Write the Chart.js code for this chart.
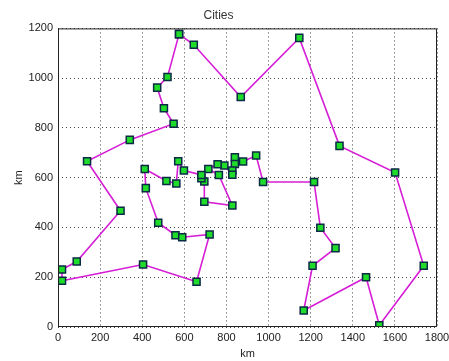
<!DOCTYPE html>
<html>
<head>
<meta charset="utf-8">
<script src="https://cdn.jsdelivr.net/npm/chart.js@4"></script>
<style>
  html, body { margin: 0; padding: 0; background: #fff; }
  canvas { display: block; }
</style>
</head>
<body>
<canvas id="chartCities" width="449" height="361"></canvas>
<script>
// Ciudades en el orden del recorrido (km)
const cityX = [575, 645, 868, 1146, 1337, 1601, 1737, 1526, 1463, 1167, 1209, 1318, 1246, 1216,
  974, 941, 879, 840, 840, 828, 828, 790, 758, 714, 764, 828, 695, 695, 681, 681,
  598, 571, 562, 515, 412, 417, 476, 558, 590, 720, 658, 404, 19, 19, 89, 297,
  138, 341, 549, 503, 471, 520];
const cityY = [1177, 1134, 924, 1162, 728, 621, 246, 7, 200, 66, 246, 317, 399, 583,
  583, 689, 665, 682, 655, 629, 612, 649, 654, 635, 611, 488, 503, 585, 598, 611,
  629, 666, 577, 587, 635, 558, 419, 369, 361, 372, 182, 251, 186, 231, 263, 467,
  666, 752, 817, 879, 962, 1005];
const xTicks = [0, 200, 400, 600, 800, 1000, 1200, 1400, 1600, 1800];
const yTicks = [0, 200, 400, 600, 800, 1000, 1200];

// recorrido cerrado: volver a la primera ciudad
const tour = cityX.map((x, i) => ({ x: x, y: cityY[i] }));
tour.push({ x: cityX[0], y: cityY[0] });

const fontTxt = { family: "'Liberation Sans', Arial, sans-serif", size: 11 };

const marcoPlugin = {
  id: "marco",
  afterDraw(chart) {
    const a = chart.chartArea;
    const ctx = chart.ctx;
    ctx.save();
    ctx.strokeStyle = "#222";
    ctx.lineWidth = 1;
    ctx.strokeRect(a.left + 0.5, a.top + 0.5, a.right - a.left - 1, a.bottom - a.top - 1);
    ctx.restore();
  },
};

new Chart(document.getElementById("chartCities"), {
  type: "scatter",
  data: {
    datasets: [
      {
        label: "Cities",
        data: tour,
        showLine: true,
        borderColor: "#d61ed6",
        borderWidth: 1.6,
        pointStyle: "rect",
        pointRadius: 5,
        pointBackgroundColor: "#1fdc2a",
        pointBorderColor: "#0b2a45",
        pointBorderWidth: 1.5,
        tension: 0,
      },
    ],
  },
  options: {
    responsive: false,
    animation: false,
    layout: { padding: { left: 0, right: 12, top: 0, bottom: 0 } },
    plugins: {
      legend: { display: false },
      tooltip: { enabled: false },
      title: {
        display: true,
        text: "Cities",
        color: "#333",
        font: { family: fontTxt.family, size: 12, weight: "normal" },
        padding: { top: 8, bottom: 6 },
      },
    },
    scales: {
      x: {
        type: "linear",
        min: 0,
        max: 1800,
        afterBuildTicks: (s) => { s.ticks = xTicks.map((v) => ({ value: v })); },
        afterFit: (s) => {
          s.height = 34;
          s.paddingLeft = 0;
          s.paddingRight = 0;
        },
        grid: { color: "#444", drawTicks: false, lineWidth: 1 },
        border: { display: false, dash: [1, 3] },
        ticks: { color: "#222", font: fontTxt, padding: 4, maxRotation: 0, callback: (v) => String(v) },
        title: { display: true, text: "km", color: "#222", font: fontTxt, padding: 0 },
      },
      y: {
        type: "linear",
        min: 0,
        max: 1200,
        afterBuildTicks: (s) => { s.ticks = yTicks.map((v) => ({ value: v })); },
        afterFit: (s) => { s.width = 58; },
        grid: { color: "#444", drawTicks: false, lineWidth: 1 },
        border: { display: false, dash: [1, 3] },
        ticks: { color: "#222", font: fontTxt, padding: 5, callback: (v) => String(v) },
        title: { display: true, text: "km", color: "#222", font: fontTxt, padding: { top: 12, bottom: 0 } },
      },
    },
  },
  plugins: [marcoPlugin],
});
</script>
</body>
</html>
